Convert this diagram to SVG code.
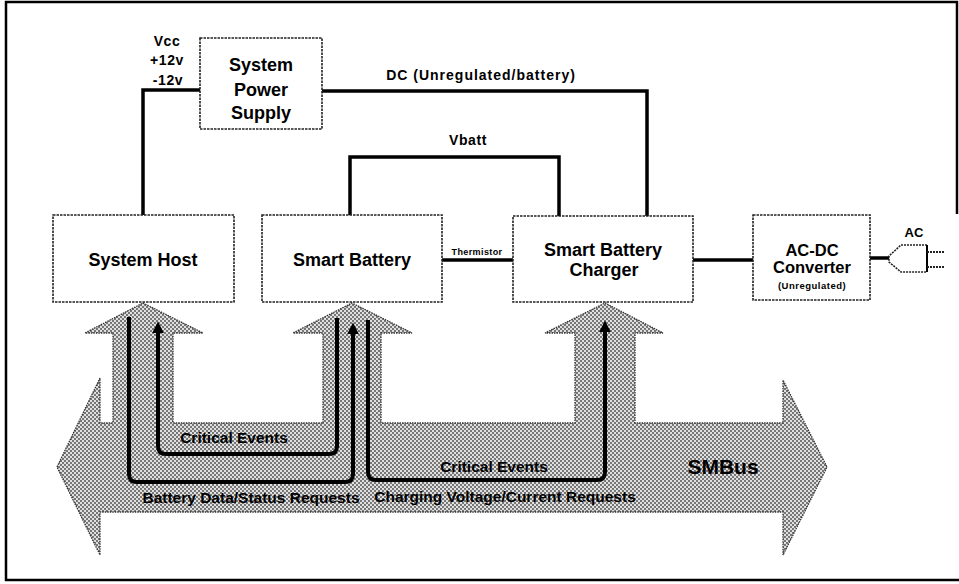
<svg xmlns="http://www.w3.org/2000/svg" width="959" height="584" viewBox="0 0 959 584">
<defs>
<style>
.box{fill:#fff;stroke:#222;stroke-width:1.6;stroke-dasharray:2.5 1}
.wire{fill:none;stroke:#000;stroke-width:3.5}
.flow{fill:none;stroke:#000;stroke-width:4}
.t{font-family:"Liberation Sans",Arial,sans-serif;font-weight:bold;fill:#000;text-anchor:middle}
.big{font-size:18px}
.lbl{font-size:14px;letter-spacing:0.6px}
.bus{font-size:15.5px}
</style>
<pattern id="dots" width="4" height="4" patternUnits="userSpaceOnUse">
<rect width="4" height="4" fill="#e0e0e0"/>
<circle cx="1" cy="1" r="0.9" fill="#444"/>
<circle cx="3" cy="3" r="0.9" fill="#444"/>
</pattern>
<marker id="ah" viewBox="0 0 10 10" refX="2" refY="5" markerWidth="12" markerHeight="12" markerUnits="userSpaceOnUse" orient="auto">
<path d="M0,0 L10,5 L0,10 z" fill="#000"/>
</marker>
</defs>
<rect width="959" height="584" fill="#fff"/>
<path d="M957,214 V2 H6 V580 H959" fill="none" stroke="#000" stroke-width="2.5"/>

<g id="smbus">
<path d="M57,467 L100,378 L100,423 L113,423 L113,333 L85,333 L143,303 L203,333 L173,333 L173,423 L323,423 L323,333 L293,333 L352,303 L412,333 L381,333 L381,423 L575,423 L575,333 L545,333 L605,303 L663,333 L635,333 L635,423 L783,423 L783,380 L827,467 L783,555 L783,512 L100,512 L100,555 Z" fill="url(#dots)" stroke="#333" stroke-width="1.3" stroke-dasharray="1.5 1"/>
<text class="t" x="723" y="474" font-size="21">SMBus</text>
</g>

<g id="connectors">
<path class="wire" d="M143,215 V90 H200" stroke-width="4"/>
<path class="wire" d="M322,91 H647 V216"/>
<path class="wire" d="M350,215 V157 H559 V216" stroke-width="4"/>
<path class="wire" d="M442,260 H513" stroke-width="3"/>
<path class="wire" d="M693,260 H753" stroke-width="4"/>
<path class="wire" d="M870,258 H889" stroke-width="2.5"/>
<path class="flow" d="M337,318 V446 Q337,454 329,454 H166 Q158,454 158,446 V331" marker-end="url(#ah)"/>
<path class="flow" d="M129,317 V474 Q129,482 137,482 H345 Q353,482 353,474 V332" marker-end="url(#ah)"/>
<path class="flow" d="M368,320 V472 Q368,480 376,480 H597 Q605,480 605,472 V330" marker-end="url(#ah)"/>
<text class="t lbl" x="167" y="46">Vcc</text>
<text class="t lbl" x="167" y="65">+12v</text>
<text class="t lbl" x="168" y="85">-12v</text>
<text class="t" x="481" y="80" font-size="14" font-weight="normal" letter-spacing="1">DC (Unregulated/battery)</text>
<text class="t lbl" x="468" y="145">Vbatt</text>
<text class="t" x="477" y="255" font-size="9" font-weight="normal" letter-spacing="0.4">Thermistor</text>
<text class="t bus" x="234" y="443">Critical Events</text>
<text class="t bus" x="494" y="472">Critical Events</text>
<text class="t bus" x="251" y="503">Battery Data/Status Requests</text>
<text class="t bus" x="505" y="502">Charging Voltage/Current Requests</text>
</g>

<g id="power-supply">
<rect class="box" x="200" y="38" width="122" height="91"/>
<text class="t big" x="261" y="71">System</text>
<text class="t big" x="261" y="96">Power</text>
<text class="t big" x="261" y="119">Supply</text>
</g>

<g id="system-host">
<rect class="box" x="53" y="215" width="181" height="87"/>
<text class="t big" x="143" y="266">System Host</text>
</g>

<g id="smart-battery">
<rect class="box" x="262" y="215" width="180" height="87"/>
<text class="t big" x="352" y="266">Smart Battery</text>
</g>

<g id="charger">
<rect class="box" x="513" y="216" width="180" height="86"/>
<text class="t big" x="603" y="256">Smart Battery</text>
<text class="t big" x="604" y="276">Charger</text>
</g>

<g id="ac-dc">
<rect class="box" x="753" y="215" width="117" height="85"/>
<text class="t" x="812" y="256" font-size="16.5">AC-DC</text>
<text class="t" x="812" y="273" font-size="16.5">Converter</text>
<text class="t" x="812" y="289" font-size="9.5" letter-spacing="0.5">(Unregulated)</text>
</g>

<g id="ac-plug">
<path d="M927,245 H901 L889,256 V262 L901,272 H927 Z" fill="#fff" stroke="#222" stroke-width="1.6" stroke-dasharray="2 1"/>
<path d="M927,245 V272" stroke="#000" stroke-width="2"/>
<path d="M927,252 H944 M927,267 H944" stroke="#222" stroke-width="2" stroke-dasharray="2 1"/>
<text class="t" x="914" y="237" font-size="13">AC</text>
</g>
</svg>
